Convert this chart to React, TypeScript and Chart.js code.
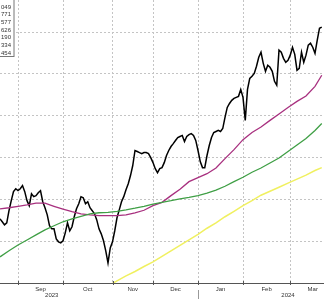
import React, { useEffect, useRef } from "react";
import { Chart, registerables } from "chart.js";

Chart.register(...registerables);

// Trading-session index of the first session of each month (last entry = April, off-chart)
const monthStarts = [8, 28, 50, 68, 88, 108, 129, 149];
const monthLabels = ["Sep", "Oct", "Nov", "Dec", "Jan", "Feb", "Mar"];
const yearLabels = ["2023", "2024"];
const yearLabelAt = [23, 128];
const yearBreakAt = [88];

const yTicks = [4200, 4400, 4600, 4800, 5000, 5200];
const legendValues = ["049", "771", "577", "626", "190", "334", "454"];

// Daily close, one value per session (index 0..143)
const price = [
  4307, 4293, 4278, 4288, 4346, 4394, 4437, 4451, 4442, 4451,
  4466, 4437, 4394, 4370, 4427, 4413, 4418, 4432, 4442, 4389,
  4360, 4326, 4274, 4259, 4259, 4211, 4197, 4192, 4202, 4240,
  4288, 4250, 4269, 4317, 4355, 4379, 4413, 4408, 4379, 4389,
  4360, 4346, 4331, 4302, 4259, 4235, 4202, 4154, 4096, 4168,
  4197, 4250, 4312, 4350, 4389, 4413, 4446, 4475, 4514, 4562,
  4634, 4629, 4624, 4619, 4624, 4624, 4619, 4600, 4576, 4547,
  4528, 4547, 4552, 4576, 4610, 4634, 4653, 4667, 4682, 4696,
  4701, 4706, 4677, 4701, 4710, 4715, 4706, 4682, 4634, 4581,
  4552, 4552, 4610, 4658, 4696, 4720, 4725, 4730, 4725, 4739,
  4792, 4840, 4859, 4874, 4883, 4888, 4893, 4926, 4888, 4778,
  4926, 4979, 4989, 5003, 5037, 5080, 5104, 5051, 5013, 5042,
  5032, 5013, 4965, 4946, 5114, 5104, 5075, 5056, 5066, 5090,
  5128, 5094, 5018, 5027, 5104, 5056, 5090, 5138, 5147, 5128,
  5099, 5162, 5219, 5224,
];

// Moving averages, sampled every 4 sessions
const maSessions = [
  0, 4, 8, 12, 16, 20, 24, 28, 32, 36, 40, 44, 48, 52, 56, 60, 64, 68, 72,
  76, 80, 84, 88, 92, 96, 100, 104, 108, 112, 116, 120, 124, 128, 132, 136,
  140, 143,
];
const ma50 = [
  4355, 4360, 4367, 4374, 4382, 4382, 4367, 4353, 4341, 4331, 4326, 4322,
  4322, 4322, 4326, 4336, 4348, 4370, 4386, 4418, 4449, 4485, 4504, 4523,
  4550, 4595, 4638, 4686, 4720, 4746, 4778, 4809, 4840, 4869, 4895, 4941,
  4994,
];
const ma100 = [
  4125, 4154, 4182, 4206, 4230, 4254, 4274, 4293, 4307, 4319, 4331, 4336,
  4338, 4343, 4350, 4358, 4367, 4377, 4386, 4394, 4403, 4410, 4418, 4430,
  4444, 4463, 4485, 4506, 4530, 4550, 4574, 4598, 4629, 4660, 4691, 4730,
  4763,
];
const ma200Sessions = [
  48, 52, 56, 60, 64, 68, 72, 76, 80, 84, 88, 92, 96, 100, 104, 108, 112,
  116, 120, 124, 128, 132, 136, 140, 143,
];
const ma200 = [
  3986, 4010, 4034, 4055, 4079, 4101, 4127, 4154, 4180, 4206, 4233, 4262,
  4288, 4317, 4343, 4370, 4394, 4420, 4439, 4458, 4478, 4497, 4516, 4538,
  4552,
];

const FONT = '"Liberation Sans", Arial, sans-serif';

const overlay = {
  id: "overlay",
  afterDraw(chart: any) {
    const { ctx } = chart;
    const xs = chart.scales.x;
    const area = chart.chartArea;
    const axisY = area.bottom;
    ctx.save();
    // tick marks at month boundaries
    ctx.strokeStyle = "#555";
    ctx.lineWidth = 1;
    for (let i = 0; i < monthStarts.length - 1; i++) {
      const px = Math.round(xs.getPixelForValue(monthStarts[i])) + 0.5;
      ctx.beginPath();
      ctx.moveTo(px, axisY - 2);
      ctx.lineTo(px, axisY + 2);
      ctx.stroke();
    }
    // month labels
    ctx.fillStyle = "#333";
    ctx.font = `6px ${FONT}`;
    ctx.textAlign = "center";
    ctx.textBaseline = "middle";
    for (let i = 0; i < monthLabels.length; i++) {
      const mid = (monthStarts[i] + monthStarts[i + 1]) / 2;
      ctx.fillText(monthLabels[i], xs.getPixelForValue(mid), axisY + 6);
    }
    // year labels
    for (let i = 0; i < yearLabels.length; i++) {
      ctx.fillText(yearLabels[i], xs.getPixelForValue(yearLabelAt[i]), axisY + 12.5);
    }
    // year separator
    ctx.strokeStyle = "#999";
    for (const b of yearBreakAt) {
      const px = Math.round(xs.getPixelForValue(b)) + 0.5;
      ctx.beginPath();
      ctx.moveTo(px, axisY + 7);
      ctx.lineTo(px, chart.height);
      ctx.stroke();
    }
    // legend box (cropped)
    ctx.fillStyle = "#fff";
    ctx.fillRect(-2, -2, 16.5, 59);
    ctx.strokeStyle = "#777";
    ctx.strokeRect(-2.5, -2.5, 16.5, 59);
    ctx.fillStyle = "#333";
    ctx.textAlign = "right";
    legendValues.forEach((t, i) => {
      ctx.fillText(t, 11, 7 + i * 7.7);
    });
    ctx.restore();
  },
};

export default function App() {
  const ref = useRef<HTMLCanvasElement | null>(null);
  useEffect(() => {
    document.body.style.margin = "0";
    const canvas = ref.current;
    if (!canvas) return;
    const chart = new Chart(canvas, {
      type: "line",
      data: {
        datasets: [
          {
            label: "200d",
            data: ma200Sessions.map((s, i) => ({ x: s, y: ma200[i] })),
            borderColor: "#f0f060",
            borderWidth: 1.5,
          },
          {
            label: "100d",
            data: maSessions.map((s, i) => ({ x: s, y: ma100[i] })),
            borderColor: "#3f9f45",
            borderWidth: 1.3,
          },
          {
            label: "50d",
            data: maSessions.map((s, i) => ({ x: s, y: ma50[i] })),
            borderColor: "#a8307f",
            borderWidth: 1.3,
          },
          {
            label: "Price",
            data: price.map((v, i) => ({ x: i, y: v })),
            borderColor: "#000",
            borderWidth: 1.5,
          },
        ],
      },
      options: {
        animation: false,
        responsive: false,
        maintainAspectRatio: false,
        layout: { padding: { left: 0, right: 0, top: 0, bottom: 16 } },
        elements: { point: { radius: 0 }, line: { tension: 0, fill: false } },
        plugins: { legend: { display: false }, tooltip: { enabled: false } },
        scales: {
          x: {
            type: "linear",
            min: 0,
            max: 144,
            afterBuildTicks: (s: any) => {
              s.ticks = monthStarts.slice(0, -1).map((v) => ({ value: v }));
            },
            ticks: { display: false },
            grid: { color: "#c4c4c4", drawTicks: false, lineWidth: 1 },
            border: { display: true, color: "#555", width: 1, dash: [2, 2] },
          },
          y: {
            type: "linear",
            min: 4000,
            max: 5354,
            afterBuildTicks: (s: any) => {
              s.ticks = yTicks.map((v) => ({ value: v }));
            },
            ticks: { display: false },
            grid: { color: "#c4c4c4", drawTicks: false, lineWidth: 1 },
            border: { display: false, dash: [2, 2] },
          },
        },
      },
      plugins: [overlay],
    });
    return () => chart.destroy();
  }, []);
  return (
    <canvas
      ref={ref}
      width={324}
      height={299}
      style={{ display: "block", width: 324, height: 299, background: "#fff" }}
    />
  );
}
